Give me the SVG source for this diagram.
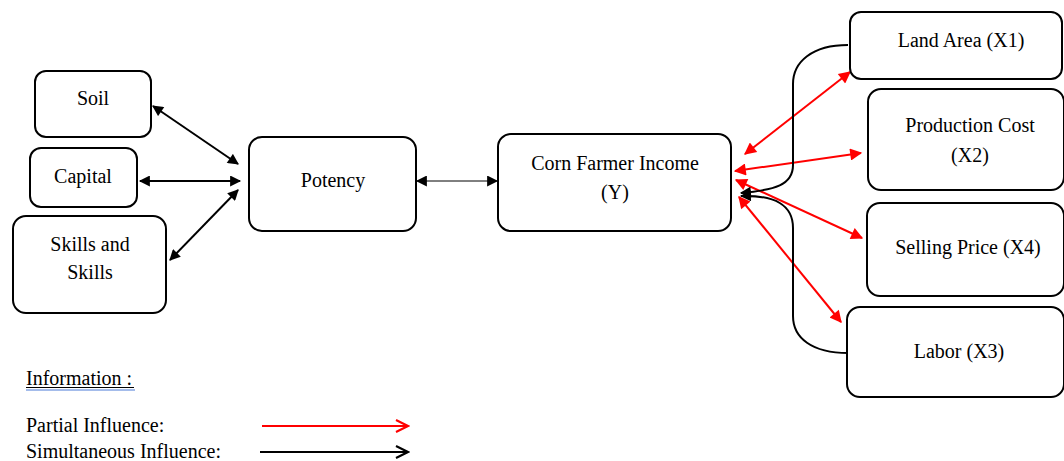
<svg xmlns="http://www.w3.org/2000/svg" width="1064" height="461" viewBox="0 0 1064 461">
<style>
.box{fill:#fff;stroke:#000;stroke-width:2}
.t{font-family:"Liberation Serif","Times New Roman",serif;font-size:20px;fill:#000;text-anchor:middle}
.lt{font-family:"Liberation Serif","Times New Roman",serif;font-size:20px;fill:#000}
.blk{fill:none;stroke:#000;stroke-width:2;marker-start:url(#ak);marker-end:url(#ak)}
.red{fill:none;stroke:#f00;stroke-width:2;marker-start:url(#ar);marker-end:url(#ar)}
.cur{fill:none;stroke:#000;stroke-width:2}
</style>
<defs>
<marker id="ak" viewBox="0 0 10 10" refX="9" refY="5" markerWidth="13" markerHeight="11" markerUnits="userSpaceOnUse" orient="auto-start-reverse"><path d="M0,0L10,5L0,10z" fill="#000"/></marker>
<marker id="ak2" viewBox="0 0 10 10" refX="9" refY="5" markerWidth="12" markerHeight="11" markerUnits="userSpaceOnUse" orient="auto-start-reverse"><path d="M0,0L10,5L0,10z" fill="#000"/></marker>
<marker id="ar" viewBox="0 0 10 10" refX="9" refY="5" markerWidth="15" markerHeight="12" markerUnits="userSpaceOnUse" orient="auto-start-reverse"><path d="M0,0L10,5L0,10z" fill="#f00"/></marker>
<marker id="ak3" viewBox="0 0 10 10" refX="9" refY="5" markerWidth="12" markerHeight="11" markerUnits="userSpaceOnUse" orient="auto"><path d="M0,0L10,5L0,10z" fill="#000"/></marker>
<marker id="or" viewBox="0 0 10 10" refX="9" refY="5" markerWidth="15" markerHeight="15" markerUnits="userSpaceOnUse" orient="auto"><path d="M1,1L9,5L1,9" fill="none" stroke="#f00" stroke-width="1.4"/></marker>
<marker id="ob" viewBox="0 0 10 10" refX="9" refY="5" markerWidth="15" markerHeight="15" markerUnits="userSpaceOnUse" orient="auto"><path d="M1,1L9,5L1,9" fill="none" stroke="#000" stroke-width="1.4"/></marker>
</defs>

<g id="connectors">
<line class="blk" x1="153" y1="106" x2="238" y2="164"/>
<line class="blk" x1="140" y1="181" x2="240" y2="181"/>
<line class="blk" x1="170" y1="260" x2="238" y2="190"/>
<line x1="417" y1="181" x2="497" y2="181" stroke="#000" stroke-width="1" marker-start="url(#ak2)" marker-end="url(#ak2)"/>
<line class="red" x1="745" y1="154" x2="850" y2="72"/>
<line class="red" x1="735" y1="171" x2="861" y2="153"/>
<line class="red" x1="736" y1="180" x2="862" y2="238"/>
<line class="red" x1="739" y1="197" x2="841" y2="322"/>
<path class="cur" d="M848,45 C812,45 793,62 793,84 L793,165 C793,185 775,190 741,193" marker-end="url(#ak3)"/>
<path class="cur" d="M848,353 C812,353 793,338 793,316 L793,228 C793,205 775,195 741,196" marker-end="url(#ak3)"/>
</g>

<g id="soil"><rect class="box" x="35" y="71" width="116" height="66" rx="11"/><text class="t" x="93" y="105">Soil</text></g>
<g id="capital"><rect class="box" x="30" y="148" width="107" height="59" rx="11"/><text class="t" x="83" y="183">Capital</text></g>
<g id="skills"><rect class="box" x="13" y="216" width="153" height="97" rx="13"/><text class="t" x="90" y="251">Skills and</text><text class="t" x="90" y="279">Skills</text></g>
<g id="potency"><rect class="box" x="249" y="137" width="167" height="94" rx="13"/><text class="t" x="333" y="187">Potency</text></g>
<g id="income"><rect class="box" x="498" y="134" width="233" height="97" rx="13"/><text class="t" x="615" y="170">Corn Farmer Income</text><text class="t" x="615" y="199">(Y)</text></g>
<g id="land"><rect class="box" x="850" y="12" width="212" height="67" rx="11"/><text class="t" x="961" y="47">Land Area (X1)</text></g>
<g id="cost"><rect class="box" x="868" y="89" width="196" height="101" rx="13"/><text class="t" x="970" y="132">Production Cost</text><text class="t" x="970" y="162">(X2)</text></g>
<g id="price"><rect class="box" x="867" y="203" width="197" height="93" rx="13"/><text class="t" x="968" y="254">Selling Price (X4)</text></g>
<g id="labor"><rect class="box" x="847" y="307" width="217" height="90" rx="13"/><text class="t" x="959" y="358">Labor (X3)</text></g>

<g id="legend">
<text class="lt" x="26" y="385">Information :</text>
<line x1="26" y1="387.5" x2="134" y2="387.5" stroke="#000" stroke-width="1"/>
<line x1="26" y1="390" x2="135" y2="390" stroke="#4a7bd8" stroke-width="1.2"/>
<text class="lt" x="26" y="432">Partial Influence:</text>
<text class="lt" x="26" y="458">Simultaneous Influence:</text>
<line x1="262" y1="426" x2="408" y2="426" stroke="#f00" stroke-width="2" marker-end="url(#or)"/>
<line x1="260" y1="452" x2="408" y2="452" stroke="#000" stroke-width="2" marker-end="url(#ob)"/>
</g>
</svg>
